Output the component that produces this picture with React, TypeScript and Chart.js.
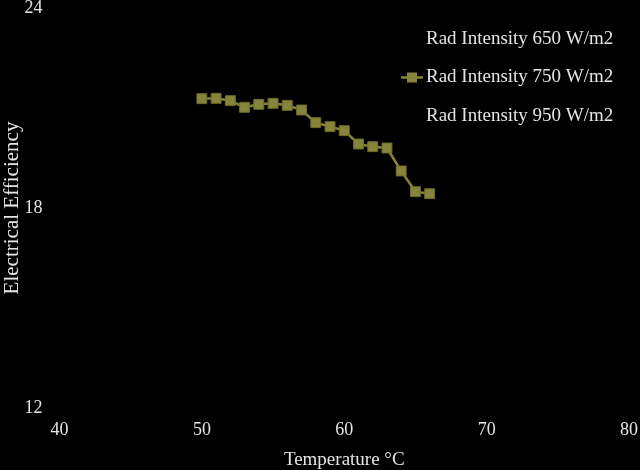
import React, { useEffect, useRef } from 'react';
import { Chart, registerables } from 'chart.js';

Chart.register(...registerables);

// Temperature readings (°C)
const temperatures = [50, 51, 52, 53, 54, 55, 56, 57, 58, 59, 60, 61, 62, 63, 64, 65, 66];

// Electrical efficiency per radiation intensity
const efficiency650: number[] = [];
const efficiency750 = [
  21.28, 21.29, 21.22, 21.02, 21.11, 21.14, 21.08, 20.94, 20.56,
  20.44, 20.32, 19.92, 19.84, 19.8, 19.11, 18.49, 18.43,
];
const efficiency950: number[] = [];

const seriesLabels = ['Rad Intensity 650 W/m2', 'Rad Intensity 750 W/m2', 'Rad Intensity 950 W/m2'];
const seriesColors = ['#000000', '#86843a', '#000000'];

const xRange = [40, 80];
const yRange = [12, 24];

const textColor = '#e4e4e4';
const fontFamily = '"Liberation Serif", "Times New Roman", serif';

const toPoints = (ys: number[]) => ys.map((y, i) => ({ x: temperatures[i], y }));

// legend drawn inside the plot area, top right, like the original
const insideLegend = {
  id: 'insideLegend',
  afterDraw(chart: any) {
    const { ctx, chartArea } = chart;
    ctx.save();
    ctx.font = `19px ${fontFamily}`;
    ctx.textBaseline = 'middle';
    ctx.textAlign = 'left';
    chart.data.datasets.forEach((ds: any, i: number) => {
      const x = chartArea.right - 203;
      const y = chartArea.top + 31 + i * 38.5;
      ctx.strokeStyle = ds.borderColor;
      ctx.lineWidth = 2.5;
      ctx.beginPath();
      ctx.moveTo(x - 25, y);
      ctx.lineTo(x - 3, y);
      ctx.stroke();
      ctx.fillStyle = ds.pointBackgroundColor;
      ctx.fillRect(x - 19, y - 5, 10, 10);
      ctx.fillStyle = textColor;
      ctx.fillText(ds.label, x, y);
    });
    ctx.restore();
  },
};

const EfficiencyChart: React.FC = () => {
  const canvasRef = useRef<HTMLCanvasElement>(null);
  const chartRef = useRef<Chart | null>(null);

  useEffect(() => {
    document.body.style.margin = '0';
    document.body.style.background = '#000';
    if (!canvasRef.current) return;
    if (chartRef.current) chartRef.current.destroy();

    const seriesData = [efficiency650, efficiency750, efficiency950];

    chartRef.current = new Chart(canvasRef.current, {
      type: 'line',
      data: {
        datasets: seriesData.map((values, i) => ({
          label: seriesLabels[i],
          data: toPoints(values),
          borderColor: seriesColors[i],
          backgroundColor: seriesColors[i],
          borderWidth: 2.5,
          pointStyle: 'rect',
          pointRadius: 7,
          pointBackgroundColor: seriesColors[i],
          pointBorderColor: i === 1 ? '#6f6d2c' : seriesColors[i],
          pointBorderWidth: 1,
          tension: 0,
          fill: false,
        })),
      },
      options: {
        animation: false,
        responsive: true,
        maintainAspectRatio: false,
        layout: { padding: { top: 7.5, right: 11, left: 0, bottom: 0 } },
        plugins: {
          legend: { display: false },
          tooltip: { enabled: false },
        },
        scales: {
          x: {
            type: 'linear',
            min: xRange[0],
            max: xRange[1],
            grid: { display: false, drawTicks: false },
            border: { display: false },
            ticks: {
              stepSize: 10,
              color: textColor,
              padding: 11,
              maxRotation: 0,
              font: { family: fontFamily, size: 18 },
            },
            title: {
              display: true,
              text: 'Temperature °C',
              color: textColor,
              padding: { top: 0, bottom: -1 },
              font: { family: fontFamily, size: 19 },
            },
            afterFit: (scale: any) => {
              scale.height = 62;
              scale.paddingLeft = 0;
              scale.paddingRight = 0;
            },
          },
          y: {
            min: yRange[0],
            max: yRange[1],
            grid: { display: false, drawTicks: false },
            border: { display: false },
            ticks: {
              stepSize: 6,
              color: textColor,
              padding: 17,
              font: { family: fontFamily, size: 18 },
            },
            title: {
              display: true,
              text: 'Electrical Efficiency',
              color: textColor,
              padding: 0,
              font: { family: fontFamily, size: 21 },
            },
            afterFit: (scale: any) => {
              scale.width = 59.5;
              scale.paddingTop = 0;
              scale.paddingBottom = 0;
            },
          },
        },
      },
      plugins: [insideLegend],
    });

    return () => {
      if (chartRef.current) {
        chartRef.current.destroy();
        chartRef.current = null;
      }
    };
  }, []);

  return (
    <div style={{ position: 'relative', width: '640px', height: '470px', background: '#000' }}>
      <canvas ref={canvasRef} />
    </div>
  );
};

export default function App() {
  return <EfficiencyChart />;
}
